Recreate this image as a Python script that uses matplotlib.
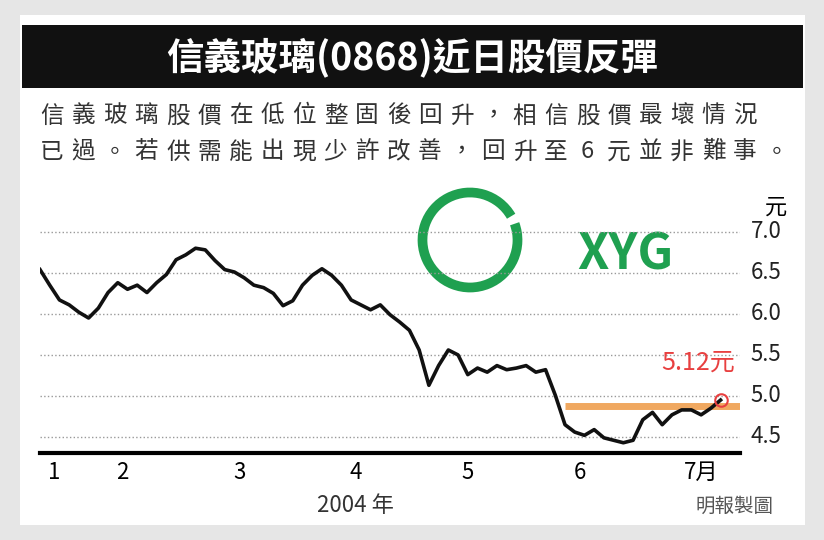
import matplotlib
matplotlib.use("Agg")
import matplotlib.pyplot as plt
import numpy as np
from matplotlib.patches import Rectangle, Arc

plt.rcParams['font.family'] = ['Noto Sans CJK TC', 'DejaVu Sans']

prices = [6.54, 6.35, 6.17, 6.11, 6.02, 5.95, 6.07, 6.26, 6.38, 6.30, 6.35, 6.26, 6.38, 6.48,
          6.66, 6.72, 6.80, 6.78, 6.65, 6.54, 6.51, 6.44, 6.35, 6.32, 6.25, 6.10, 6.16, 6.35,
          6.47, 6.55, 6.47, 6.35, 6.17, 6.11, 6.05, 6.11, 5.99, 5.90, 5.80, 5.56, 5.13, 5.37,
          5.56, 5.50, 5.26, 5.34, 5.29, 5.37, 5.32, 5.34, 5.37, 5.29, 5.32, 5.01, 4.65, 4.56,
          4.52, 4.59, 4.49, 4.46, 4.43, 4.46, 4.71, 4.80, 4.65, 4.77, 4.83, 4.83, 4.77, 4.85, 4.95]
month_labels = ['1', '2', '3', '4', '5', '6', '7月']
month_pos = [1.5, 8.5, 20.5, 32.5, 44, 55.5, 68]
yticks = [4.5, 5.0, 5.5, 6.0, 6.5, 7.0]
ref_level = 4.88
last_label = '5.12元'
line1 = '信義玻璃股價在低位整固後回升，相信股價最壞情況'
line2 = '已過。若供需能出現少許改善，回升至6元並非難事。'

fig = plt.figure(figsize=(8.24, 5.40), dpi=100)
fig.patch.set_facecolor('#e6e6e6')
bg = fig.add_axes([0, 0, 1, 1], zorder=-5)
bg.set_axis_off()
bg.set_xlim(0, 824)
bg.set_ylim(540, 0)
bg.add_patch(Rectangle((20, 15), 785, 510, facecolor='white', edgecolor='none'))
bg.add_patch(Rectangle((22, 25), 781, 63, facecolor='#111111', edgecolor='none'))
bg.text(412, 57, '信義玻璃(0868)近日股價反彈', color='white', fontsize=27,
        fontweight='bold', ha='center', va='center')
for j, (line, yy) in enumerate([(line1, 116), (line2, 152)]):
    for i, ch in enumerate(line):
        bg.text(52 + i * 31.5, yy, ch, fontsize=17, color='#333333', va='center', ha='center')
bg.add_patch(Arc((470, 240), 95, 95, theta1=-20, theta2=330, color='#1fa050', lw=7))
bg.text(625, 255, 'XYG', color='#1fa050', fontsize=36, fontweight='bold',
        style='italic', ha='center', va='center')
bg.text(355, 506, '2004 年', fontsize=16, ha='center', va='center', color='#333333')
bg.text(735, 506, '明報製圖', fontsize=14, ha='center', va='center', color='#555555')

ax = fig.add_axes([40/824, 1-453/540, 700/824, 254/540], zorder=2)
ax.patch.set_alpha(0)
x = np.arange(len(prices))
ax.set_xlim(0, 72)
ax.set_ylim(4.305, 7.40)
for v in yticks:
    ax.axhline(v, color='#999999', ls=':', lw=1, zorder=0)
ax.plot([54, 72], [ref_level, ref_level], color='#f0a860', lw=5, zorder=1, solid_capstyle='butt')
ax.plot(x, prices, color='#111111', lw=2.6, zorder=2)
ax.plot(x[-1], prices[-1], 'o', mfc='none', mec='#e84040', ms=9, mew=1.5, zorder=3)
ax.text(x[-1] + 1.5, prices[-1] + 0.3, last_label, color='#e84040', fontsize=18, ha='right',
        va='bottom')
for s in ['top', 'left', 'right']:
    ax.spines[s].set_visible(False)
ax.spines['bottom'].set_linewidth(3)
ax.set_yticks([])
ax.set_xticks(month_pos)
ax.set_xticklabels(month_labels, fontsize=16)
ax.tick_params(axis='x', length=0, pad=6)
for v in yticks:
    ax.text(1.015, v, f'{v:.1f}', transform=ax.get_yaxis_transform(), fontsize=16,
            va='center', ha='left', color='#222222')
ax.text(1.035, 7.3, '元', transform=ax.get_yaxis_transform(), fontsize=16, va='center',
        ha='left', clip_on=False)

fig.savefig('out.png', dpi=100, facecolor=fig.get_facecolor())
